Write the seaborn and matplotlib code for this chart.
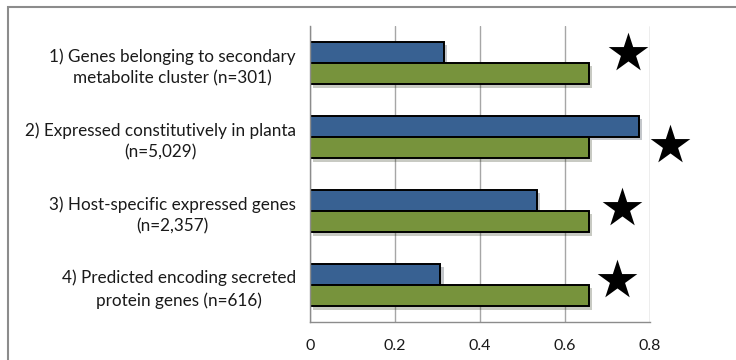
import matplotlib
matplotlib.use("Agg")
import matplotlib.pyplot as plt
import matplotlib.patheffects as pe
from matplotlib.patches import Rectangle
import seaborn as sns
import pandas as pd

categories = [
    "1) Genes belonging to secondary\nmetabolite cluster (n=301)",
    "2) Expressed constitutively in planta\n(n=5,029)",
    "3) Host-specific expressed genes\n(n=2,357)",
    "4) Predicted encoding secreted\nprotein genes (n=616)",
]
series_names = ["Series 1", "Series 2"]
series1 = [0.315, 0.774, 0.533, 0.307]
series2 = [0.656, 0.656, 0.656, 0.656]
x_ticks = [0, 0.2, 0.4, 0.6, 0.8]
tick_labels = ["0", "0.2", "0.4", "0.6", "0.8"]
star_x = [0.748, 0.847, 0.734, 0.722]
star_y = [-0.14, 0.11, -0.04, -0.07]

df = pd.DataFrame({
    "category": categories * 2,
    "series": [series_names[0]] * 4 + [series_names[1]] * 4,
    "value": series1 + series2,
})

sns.set_style("white")
plt.rcParams["font.family"] = ["Lato", "DejaVu Sans"]

fig = plt.figure(figsize=(7.36, 3.6), dpi=100)
ax = fig.add_axes([310 / 736, 1 - 322 / 360, 340 / 736, 296 / 360])

sns.barplot(data=df, y="category", x="value", hue="series", orient="h",
            order=categories, hue_order=series_names,
            palette=["#386192", "#77933C"], width=0.57,
            edgecolor="black", linewidth=1.4, saturation=1, ax=ax, legend=False)

for p in ax.patches:
    p.set_path_effects([pe.SimplePatchShadow(offset=(2.5, -2.5), alpha=0.25), pe.Normal()])

ax.scatter([x for x in star_x], [i + d for i, d in enumerate(star_y)],
           marker="*", s=900, color="black", clip_on=False, zorder=5, linewidths=0)

ax.set_xlim(0, 0.8)
ax.set_ylim(3.5, -0.5)
ax.set_xticks(x_ticks)
ax.set_xticklabels(tick_labels)
ax.set_xlabel("")
ax.set_ylabel("")
ax.xaxis.grid(True, color="#a6a6a6", linewidth=1)
ax.set_axisbelow(True)

for s in ["top", "right"]:
    ax.spines[s].set_visible(False)
for s in ["left", "bottom"]:
    ax.spines[s].set_color("#8c8c8c")
    ax.spines[s].set_linewidth(1)

ax.set_yticks([-0.5, 0.5, 1.5, 2.5, 3.5], minor=False)
ax.set_yticklabels([])
ax.set_yticks([0, 1, 2, 3], minor=True)
ax.set_yticklabels(categories, minor=True, fontsize=12.3, multialignment="center",
                   color="#1a1a1a", linespacing=1.45)
ax.tick_params(axis="y", which="major", direction="out", length=5, color="#8c8c8c", width=1)
ax.tick_params(axis="y", which="minor", length=0, pad=10)
ax.tick_params(axis="x", direction="out", length=5, color="#8c8c8c", width=1,
               labelsize=11.5, labelcolor="#1a1a1a", pad=7)

fig.patches.append(Rectangle((8 / 736, -0.1), 1.2, 1 - 7 / 360 + 0.1, transform=fig.transFigure,
                             fill=False, edgecolor="#8c8c8c", linewidth=1.5))

fig.savefig("out.png", dpi=100)
